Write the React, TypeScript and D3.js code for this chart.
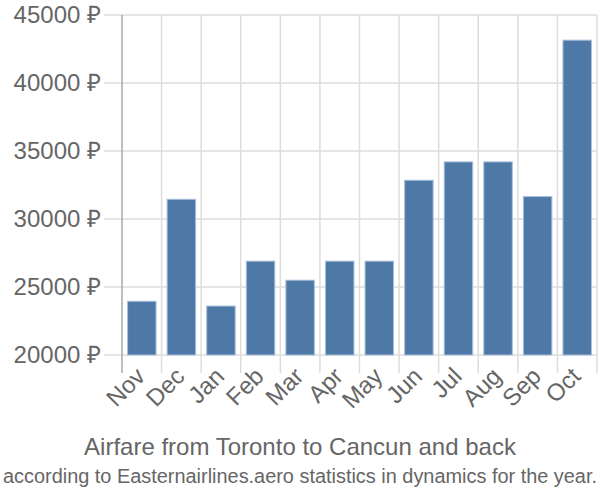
import React from "react";
import * as d3 from "d3";

const months = ["Nov", "Dec", "Jan", "Feb", "Mar", "Apr", "May", "Jun", "Jul", "Aug", "Sep", "Oct"];
const prices = [23950, 31450, 23600, 26900, 25500, 26900, 26900, 32850, 34200, 34200, 31650, 43150];
const yTicks = [20000, 25000, 30000, 35000, 40000, 45000];
const title = "Airfare from Toronto to Cancun and back";
const subtitle = "according to Easternairlines.aero statistics in dynamics for the year.";

export default function App() {
  const W = 600, H = 500;
  const left = 122, right = 597, top = 15, bottom = 355;
  const x = d3.scaleBand<string>().domain(months).range([left, right]).paddingInner(0.28).paddingOuter(0.14);
  const y = d3.scaleLinear().domain([20000, 45000]).range([bottom, top]);
  const font = "'Liberation Sans', Arial, sans-serif";
  const bounds = months.map((_, i) => left + i * (right - left) / months.length).concat([right]);
  return (
    <svg width={W} height={H} style={{ position: "absolute", left: 0, top: 0 }} fontFamily={font}>
      <rect width={W} height={H} fill="#fff" />
      {yTicks.map((t) => (
        <g key={t}>
          <line x1={104} x2={right} y1={y(t)} y2={y(t)} stroke="#ddd" strokeWidth={1.5} />
          <text x={101} y={y(t)} dy="0.35em" textAnchor="end" fontSize={24} fill="#666">{`${t} ₽`}</text>
        </g>
      ))}
      {bounds.slice(1).map((b, i) => (
        <line key={i} x1={b} x2={b} y1={top} y2={bottom + 18} stroke="#ddd" strokeWidth={1.5} />
      ))}
      <line x1={left} x2={left} y1={top} y2={bottom + 18} stroke="#aaa" strokeWidth={1.5} />
      {months.map((m, i) => (
        <rect key={m} x={x(m)!} y={y(prices[i])} width={x.bandwidth()} height={bottom - y(prices[i])}
          fill="#4e78a6" stroke="#a8c0dc" strokeWidth={1} />
      ))}
      {months.map((m) => {
        const cx = x(m)! + x.bandwidth() / 2 - 8;
        const cy = bottom + 10;
        return (
          <text key={m} transform={`translate(${cx},${cy}) rotate(-45)`} textAnchor="end" dy="0.75em"
            fontSize={24} fill="#666">{m}</text>
        );
      })}
      <text x={300} y={455} textAnchor="middle" fontSize={24} fill="#666">{title}</text>
      <text x={300} y={483} textAnchor="middle" fontSize={20} fill="#666" textLength={594} lengthAdjust="spacingAndGlyphs">{subtitle}</text>
    </svg>
  );
}
